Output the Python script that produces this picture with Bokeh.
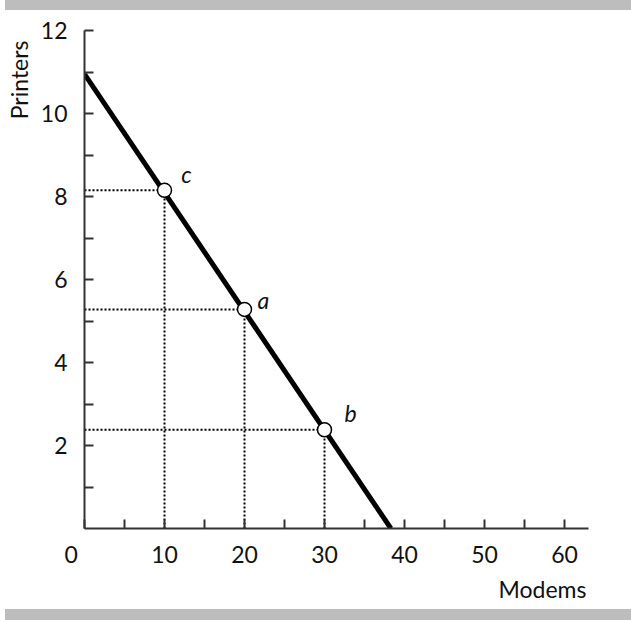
from bokeh.plotting import figure
from bokeh.models import ColumnDataSource, FixedTicker, Range1d, Spacer, Title
from bokeh.layouts import column
from bokeh.core.properties import value
from bokeh.embed import file_html
from bokeh.resources import INLINE

# ---- data ----
line_x = [0.0, 38.3]          # Modems
line_y = [10.95, 0.0]         # Printers
point_names = ["c", "a", "b"]
point_x = [10, 20, 30]
point_y = [8.15, 5.28, 2.38]
x_ticks = [0, 5, 10, 15, 20, 25, 30, 35, 40, 45, 50, 55, 60]
x_tick_labels = {0: "0\u2007\u2007", 10: "10", 20: "20", 30: "30", 40: "40", 50: "50", 60: "60"}
y_ticks = [1, 2, 3, 4, 5, 6, 7, 8, 9, 10, 11, 12]
y_tick_labels = {2: "2", 4: "4", 6: "6", 8: "8", 10: "10", 12: "12"}
x_title = "Modems"
y_title = "Printers"

FONT = "Lato"
AX = "#333333"
TXT = "#111111"

p = figure(frame_width=504, frame_height=498,
           min_border_left=84, min_border_right=43,
           min_border_top=20, min_border_bottom=81,
           x_range=Range1d(0, 63), y_range=Range1d(0, 12),
           output_backend="svg", toolbar_location=None)
p.outline_line_color = None
p.xgrid.visible = False
p.ygrid.visible = False
p.background_fill_color = "white"
p.border_fill_color = "white"

for ax in (p.xaxis[0], p.yaxis[0]):
    ax.axis_line_color = AX
    ax.axis_line_width = 2
    ax.major_tick_line_color = AX
    ax.major_tick_line_width = 2
    ax.major_tick_in = 9
    ax.major_tick_out = 0
    ax.minor_tick_line_color = None
    ax.major_label_text_font = FONT
    ax.major_label_text_font_size = "23px"
    ax.major_label_text_color = TXT

p.xaxis[0].ticker = FixedTicker(ticks=x_ticks)
p.xaxis[0].major_label_overrides = {t: x_tick_labels.get(t, "") for t in x_ticks}
p.xaxis[0].major_label_standoff = 11
p.yaxis[0].ticker = FixedTicker(ticks=y_ticks)
p.yaxis[0].major_label_overrides = {t: y_tick_labels.get(t, "") for t in y_ticks}
p.yaxis[0].major_label_standoff = 17

# dotted guide lines
for px_, py_ in zip(point_x, point_y):
    p.line([0, px_], [py_, py_], line_color="black", line_width=2, line_dash="2 2")
    p.line([px_, px_], [0, py_], line_color="black", line_width=2, line_dash="2 2")

# main line
p.line(line_x, line_y, line_color="black", line_width=5)

src = ColumnDataSource(dict(x=point_x, y=point_y, name=point_names,
                            dx=[22, 19, 26], dy=[-16, -9, -17]))
p.scatter("x", "y", source=src, size=14, fill_color="white",
          line_color="black", line_width=1.5)
p.text("x", "y", text="name", source=src, x_offset="dx", y_offset="dy",
       text_font=value(FONT), text_font_style="italic", text_font_size="23px",
       text_align="center", text_baseline="middle", text_color=TXT)

p.add_layout(Title(text=x_title, align="right", offset=2, standoff=4,
                   text_font=FONT, text_font_size="23px",
                   text_font_style="normal", text_color=TXT), "below")
p.add_layout(Title(text=y_title, align="right", offset=10, standoff=6,
                   vertical_align="top",
                   text_font=FONT, text_font_size="23px",
                   text_font_style="normal", text_color=TXT), "left")

top_bar = Spacer(width=626, height=10, margin=(0, 0, 0, 5),
                 styles={"background-color": "#bdbdbd"})
bottom_bar = Spacer(width=626, height=11, margin=(0, 0, 0, 5),
                    styles={"background-color": "#bdbdbd"})
p.height = 599
layout = column(top_bar, p, bottom_bar, spacing=0)

open("out.html", "w").write(file_html(layout, INLINE))
